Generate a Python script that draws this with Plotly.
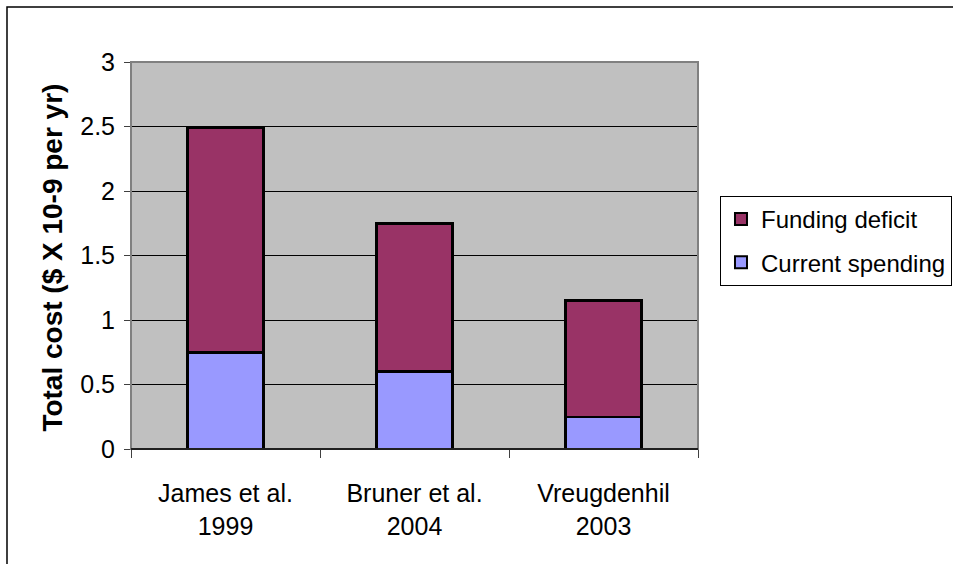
import plotly.graph_objects as go

# data
studies = ["James et al.<br>1999", "Bruner et al.<br>2004", "Vreugdenhil<br>2003"]
current_spending = [0.75, 0.60, 0.25]
funding_deficit = [1.74, 1.15, 0.90]
y_ticks = [0, 0.5, 1, 1.5, 2, 2.5, 3]

FONT = "Liberation Sans, Arial, sans-serif"

fig = go.Figure()
fig.add_trace(go.Bar(
    x=studies, y=current_spending, name="Current spending",
    legendgroup="cur", legendrank=2,
    marker=dict(color="#9999FF", line=dict(color="black", width=2.5)),
    width=0.4,
))
fig.add_trace(go.Bar(
    x=studies, y=funding_deficit, name="Funding deficit",
    legendgroup="def", legendrank=1,
    marker=dict(color="#993366", line=dict(color="black", width=2.5)),
    width=0.4,
))

fig.update_layout(
    barmode="stack",
    width=953, height=564,
    margin=dict(l=131, r=255, t=62, b=115, autoexpand=False),
    paper_bgcolor="white",
    plot_bgcolor="#C0C0C0",
    font=dict(family=FONT, size=25, color="black"),
    showlegend=True,
    legend=dict(
        xref="container", yref="container",
        x=0.7555, y=0.6525, xanchor="left", yanchor="top",
        bgcolor="white", bordercolor="black", borderwidth=1,
        font=dict(size=24), traceorder="grouped",
        itemsizing="constant", tracegroupgap=9, itemwidth=30,
    ),
    xaxis=dict(
        showline=True, linecolor="black", linewidth=1,
        ticks="outside", ticklen=8, tickcolor="#404040",
        tickson="boundaries", showgrid=False,
        tickfont=dict(size=25), ticklabelstandoff=22,
    ),
    yaxis=dict(
        range=[0, 3], tickvals=y_ticks,
        ticktext=[f"{v:g}" for v in y_ticks],
        showline=True, linecolor="#808080", linewidth=1,
        ticks="outside", ticklen=6, tickcolor="#404040",
        showgrid=True, gridcolor="black", gridwidth=1,
        zeroline=False, ticklabelstandoff=4,
    ),
)

# y axis title placed by hand to sit where the original puts it
fig.add_annotation(
    text="<b>Total cost ($ X 10-9 per yr)</b>",
    xref="paper", yref="paper", x=-0.139, y=0.495,
    xanchor="center", yanchor="middle", textangle=-90,
    showarrow=False, font=dict(size=28, family=FONT),
)

# grey frame round the plot area
fig.add_shape(type="rect", xref="paper", yref="paper", x0=0, x1=1, y0=0, y1=1,
              line=dict(color="#808080", width=2), layer="above")
fig.add_shape(type="line", xref="paper", yref="paper", x0=0, x1=1, y0=0, y1=0,
              line=dict(color="black", width=1.5), layer="above")
# outer chart border, runs off the right and bottom edges like the original
fig.add_shape(type="rect", xref="paper", yref="paper", x0=-0.2187, x1=2.0, y0=-0.5, y1=1.1421,
              line=dict(color="black", width=1.5), layer="above")

# drop the default body margin so the figure sits flush in the window
fig.write_html(
    "out.html",
    config={"displayModeBar": False},
    post_script="document.body.style.margin='0';document.body.style.overflow='hidden';",
)
